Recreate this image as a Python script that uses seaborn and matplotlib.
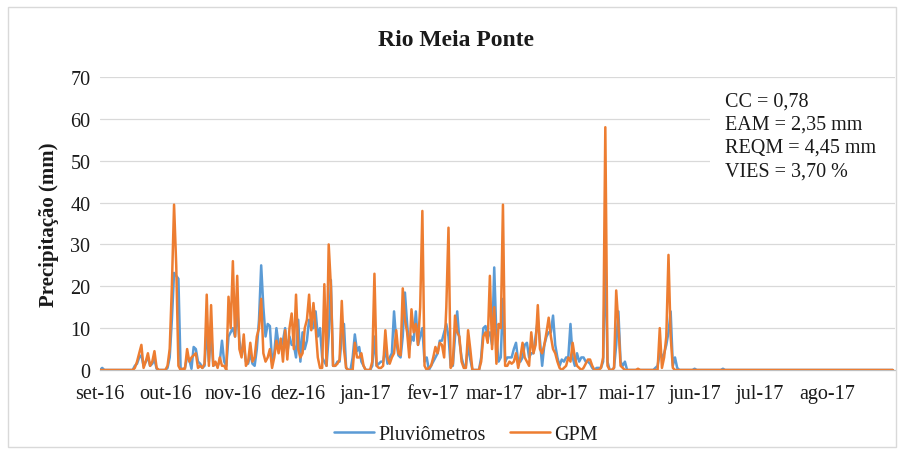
import matplotlib
matplotlib.use('Agg')
import matplotlib.pyplot as plt
from matplotlib.lines import Line2D
from matplotlib.patches import Rectangle
import seaborn as sns
import pandas as pd

# --- Data (daily precipitation, mm, 01/09/2016 - 31/08/2017) ---
month_labels = ['set-16', 'out-16', 'nov-16', 'dez-16', 'jan-17', 'fev-17',
                'mar-17', 'abr-17', 'mai-17', 'jun-17', 'jul-17', 'ago-17']

pluviometros = [
    # set
    0, 0.5, 0, 0, 0, 0, 0, 0, 0, 0, 0, 0, 0, 0, 0, 0, 1, 1.5, 3, 3.5, 1, 2, 3, 1, 1.5, 2.5, 0.3, 0, 0, 0,
    # out
    0, 0.5, 3, 12, 23.2, 22.5, 21.8, 0.5, 0, 0.5, 3, 2.5, 0.3, 5.5, 5, 2, 1.5, 0.5, 1, 10, 2, 9, 1, 1.5, 1, 2, 7, 2, 1, 8, 9,
    # nov
    10, 8, 14.5, 7, 4, 6, 2, 1.5, 4, 1.5, 1, 5, 12, 25, 15, 8, 11, 10.5, 2, 4, 10, 6, 5.5, 7, 10, 4, 8, 6, 6, 3,
    # dez
    12, 2, 9, 5, 7, 12, 10, 10, 14, 8, 10, 3, 2, 1, 8, 21.5, 1, 1, 2, 2, 8, 11, 0.5, 0, 0, 3, 8.5, 4.5, 5.5, 2, 1,
    # jan
    0, 0, 0, 1, 8, 1, 1.5, 2, 2, 5, 1.5, 3, 4, 14, 7, 3.5, 3, 8, 18.5, 11, 5, 8, 7, 14, 6, 8, 10, 2, 3, 0, 1,
    # fev
    2, 3, 4, 7, 7, 9, 11, 8, 1, 1, 8, 14, 7, 3, 1, 1, 6, 2.5, 0, 0, 0, 0, 3, 10, 10.5, 8, 9, 6,
    # mar
    24.5, 8, 2, 3, 17, 2, 3, 3, 3, 5, 6.5, 2, 2, 3, 6, 6.5, 3, 4, 4, 8, 12, 7, 1, 6, 8, 9, 9, 13, 6, 3, 1,
    # abr
    2.5, 2, 3, 3, 11, 3, 1, 4, 2, 3, 3, 2, 2, 1.5, 0.5, 0, 0.5, 0.5, 0.5, 2, 28, 2, 0, 0, 0.5, 6, 14, 2, 1, 2,
    # mai
    0, 0, 0, 0, 0, 0, 0, 0, 0, 0, 0, 0, 0, 0.5, 1, 4, 3, 4, 6, 9, 14, 1, 3, 0.5, 0, 0, 0, 0, 0, 0, 0,
    # jun
    0.3, 0, 0, 0, 0, 0, 0, 0, 0, 0, 0, 0, 0, 0.3, 0, 0, 0, 0, 0, 0, 0, 0, 0, 0, 0, 0, 0, 0, 0, 0,
    # jul
    0, 0, 0, 0, 0, 0, 0, 0, 0, 0, 0, 0, 0, 0, 0, 0, 0, 0, 0, 0, 0, 0, 0, 0, 0, 0, 0, 0, 0, 0, 0,
    # ago
    0, 0, 0, 0, 0, 0, 0, 0, 0, 0, 0, 0, 0, 0, 0, 0, 0, 0, 0, 0, 0, 0, 0, 0, 0, 0, 0, 0, 0, 0, 0,
]

gpm = [
    # set
    0, 0, 0, 0, 0, 0, 0, 0, 0, 0, 0, 0, 0, 0, 0, 0, 0.5, 2, 4, 6, 0.5, 2, 4, 1, 2, 4.5, 0.5, 0, 0, 0,
    # out
    0, 1, 5, 20, 39.5, 25, 1, 0, 0.3, 0.3, 5, 2, 3, 3.5, 4, 0.5, 1, 0.5, 1.5, 18, 1, 15.5, 1, 2, 0.5, 3, 1, 1, 0, 17.5, 10,
    # nov
    26, 8, 22.5, 5, 3, 8.5, 1, 2, 6.5, 2, 3, 8, 10, 17, 4, 2, 3, 5, 0.5, 3, 7, 4, 7.5, 2, 9.5, 2.5, 10, 13.5, 5, 18,
    # dez
    5, 3, 4, 10, 12, 18, 9.5, 16, 10, 3, 0.5, 0.5, 20.5, 1, 30, 20, 1, 1, 1.5, 2.5, 16.5, 5, 0.5, 0, 0, 0, 6.5, 3, 3, 4, 1,
    # jan
    0, 0, 0, 2, 23, 1, 0.5, 0.5, 1, 9.5, 3, 1.5, 3, 4, 9.5, 4, 3.5, 19.5, 12, 9, 3, 14.5, 9, 11, 6, 15, 38, 1, 0, 0.5, 1,
    # fev
    3, 5.5, 4, 6.5, 6, 3, 15, 34, 0.5, 1.5, 13, 9, 8, 2, 0.5, 0.5, 9.5, 5, 0, 0, 0, 0, 2, 8, 9, 6.5, 22.5, 5,
    # mar
    15, 1.5, 11, 10, 39.5, 1, 1, 2, 1.5, 2, 4, 0.5, 3, 6.5, 3, 2, 1, 9, 4, 6, 15.5, 5, 4, 6, 9, 12.5, 8, 5, 4, 2, 0.5,
    # abr
    0, 0.5, 1, 3, 2, 6.5, 3, 1, 0.5, 0, 0.5, 1.5, 2.5, 2.5, 1, 0, 0, 0, 0.5, 3, 58, 1, 0, 0, 0.5, 19, 11, 1, 0.5, 0,
    # mai
    0, 0, 0, 0, 0, 0.3, 0, 0, 0, 0, 0, 0, 0, 0, 0, 10, 0.5, 3, 8, 27.5, 8, 0.5, 0, 0, 0, 0, 0, 0, 0, 0, 0,
    # jun
    0, 0, 0, 0, 0, 0, 0, 0, 0, 0, 0, 0, 0, 0, 0, 0, 0, 0, 0, 0, 0, 0, 0, 0, 0, 0, 0, 0, 0, 0,
    # jul
    0, 0, 0, 0, 0, 0, 0, 0, 0, 0, 0, 0, 0, 0, 0, 0, 0, 0, 0, 0, 0, 0, 0, 0, 0, 0, 0, 0, 0, 0, 0,
    # ago
    0, 0, 0, 0, 0, 0, 0, 0, 0, 0, 0, 0, 0, 0, 0, 0, 0, 0, 0, 0, 0, 0, 0, 0, 0, 0, 0, 0, 0, 0, 0,
]

stats_lines = ['CC = 0,78', 'EAM = 2,35 mm', 'REQM = 4,45 mm', 'VIES = 3,70 %']

series_names = ['Pluviômetros', 'GPM']
colors = {'Pluviômetros': '#5B9BD5', 'GPM': '#ED7D31'}

# --- Build long table ---
dates = pd.date_range('2016-09-01', periods=len(gpm), freq='D')
df = pd.DataFrame({'Data': dates, 'Pluviômetros': pluviometros, 'GPM': gpm})
df_long = df.melt(id_vars='Data', var_name='Série', value_name='Precipitação')

sns.set_style('white')
plt.rcParams['font.family'] = ['Liberation Serif', 'DejaVu Serif']
text_color = '#1a1a1a'

fig = plt.figure(figsize=(9.01, 4.56), dpi=100)
ax = fig.add_axes([100 / 901, 1 - 371 / 456, 795 / 901, 293 / 456])

sns.lineplot(data=df_long, x='Data', y='Precipitação', hue='Série',
             hue_order=series_names, palette=colors, linewidth=1.8,
             ax=ax, legend=False, zorder=3)

# --- Axes styling ---
ax.set_xlim(pd.Timestamp('2016-09-01'), pd.Timestamp('2017-09-01'))
ax.set_ylim(0, 70)
ax.set_yticks(range(0, 71, 10))
month_starts = pd.date_range('2016-09-01', '2017-09-01', freq='MS')
ax.set_xticks(month_starts)
ax.set_xticklabels(month_labels + [''])
ax.grid(axis='y', color='#D9D9D9', linewidth=0.9)
ax.set_axisbelow(True)
for side in ['top', 'right', 'left']:
    ax.spines[side].set_visible(False)
ax.spines['bottom'].set_color('#BFBFBF')
ax.spines['bottom'].set_linewidth(0.9)
ax.tick_params(axis='x', length=4, width=0.9, color='#BFBFBF', pad=6,
               labelsize=14.5, labelcolor=text_color)
ax.tick_params(axis='y', length=0, pad=7, labelsize=14.5, labelcolor=text_color)
ax.set_xlabel('')
ax.set_ylabel('Precipitação (mm)', fontsize=15, fontweight='bold', color=text_color)
ax.yaxis.set_label_coords(-0.052, 0.5)

# white box behind the statistics text
ax.add_patch(Rectangle((0.767, 44 / 70), 0.233, 22 / 70, transform=ax.transAxes,
                       facecolor='white', edgecolor='none', zorder=1))

for i, line in enumerate(stats_lines):
    fig.text(725 / 901, 1 - (102 + i * 23.2) / 456, line, fontsize=14.5,
             color=text_color, ha='left', va='center')

fig.text(456 / 901, 1 - 40 / 456, 'Rio Meia Ponte', fontsize=17,
         fontweight='bold', color=text_color, ha='center', va='center')

handles = [Line2D([0], [0], color=colors[n], linewidth=1.8) for n in series_names]
fig.legend(handles, series_names, loc='center', bbox_to_anchor=(466 / 901, 1 - 435 / 456),
           ncol=2, frameon=False, fontsize=14.5, handlelength=2.0,
           handletextpad=0.2, columnspacing=1.2, labelcolor=text_color)

# chart area border
fig.patches.append(Rectangle((8 / 901, 8 / 456), 888 / 901, 440 / 456,
                             transform=fig.transFigure, fill=False,
                             edgecolor='#D9D9D9', linewidth=1))

fig.savefig('out.png', dpi=100)
